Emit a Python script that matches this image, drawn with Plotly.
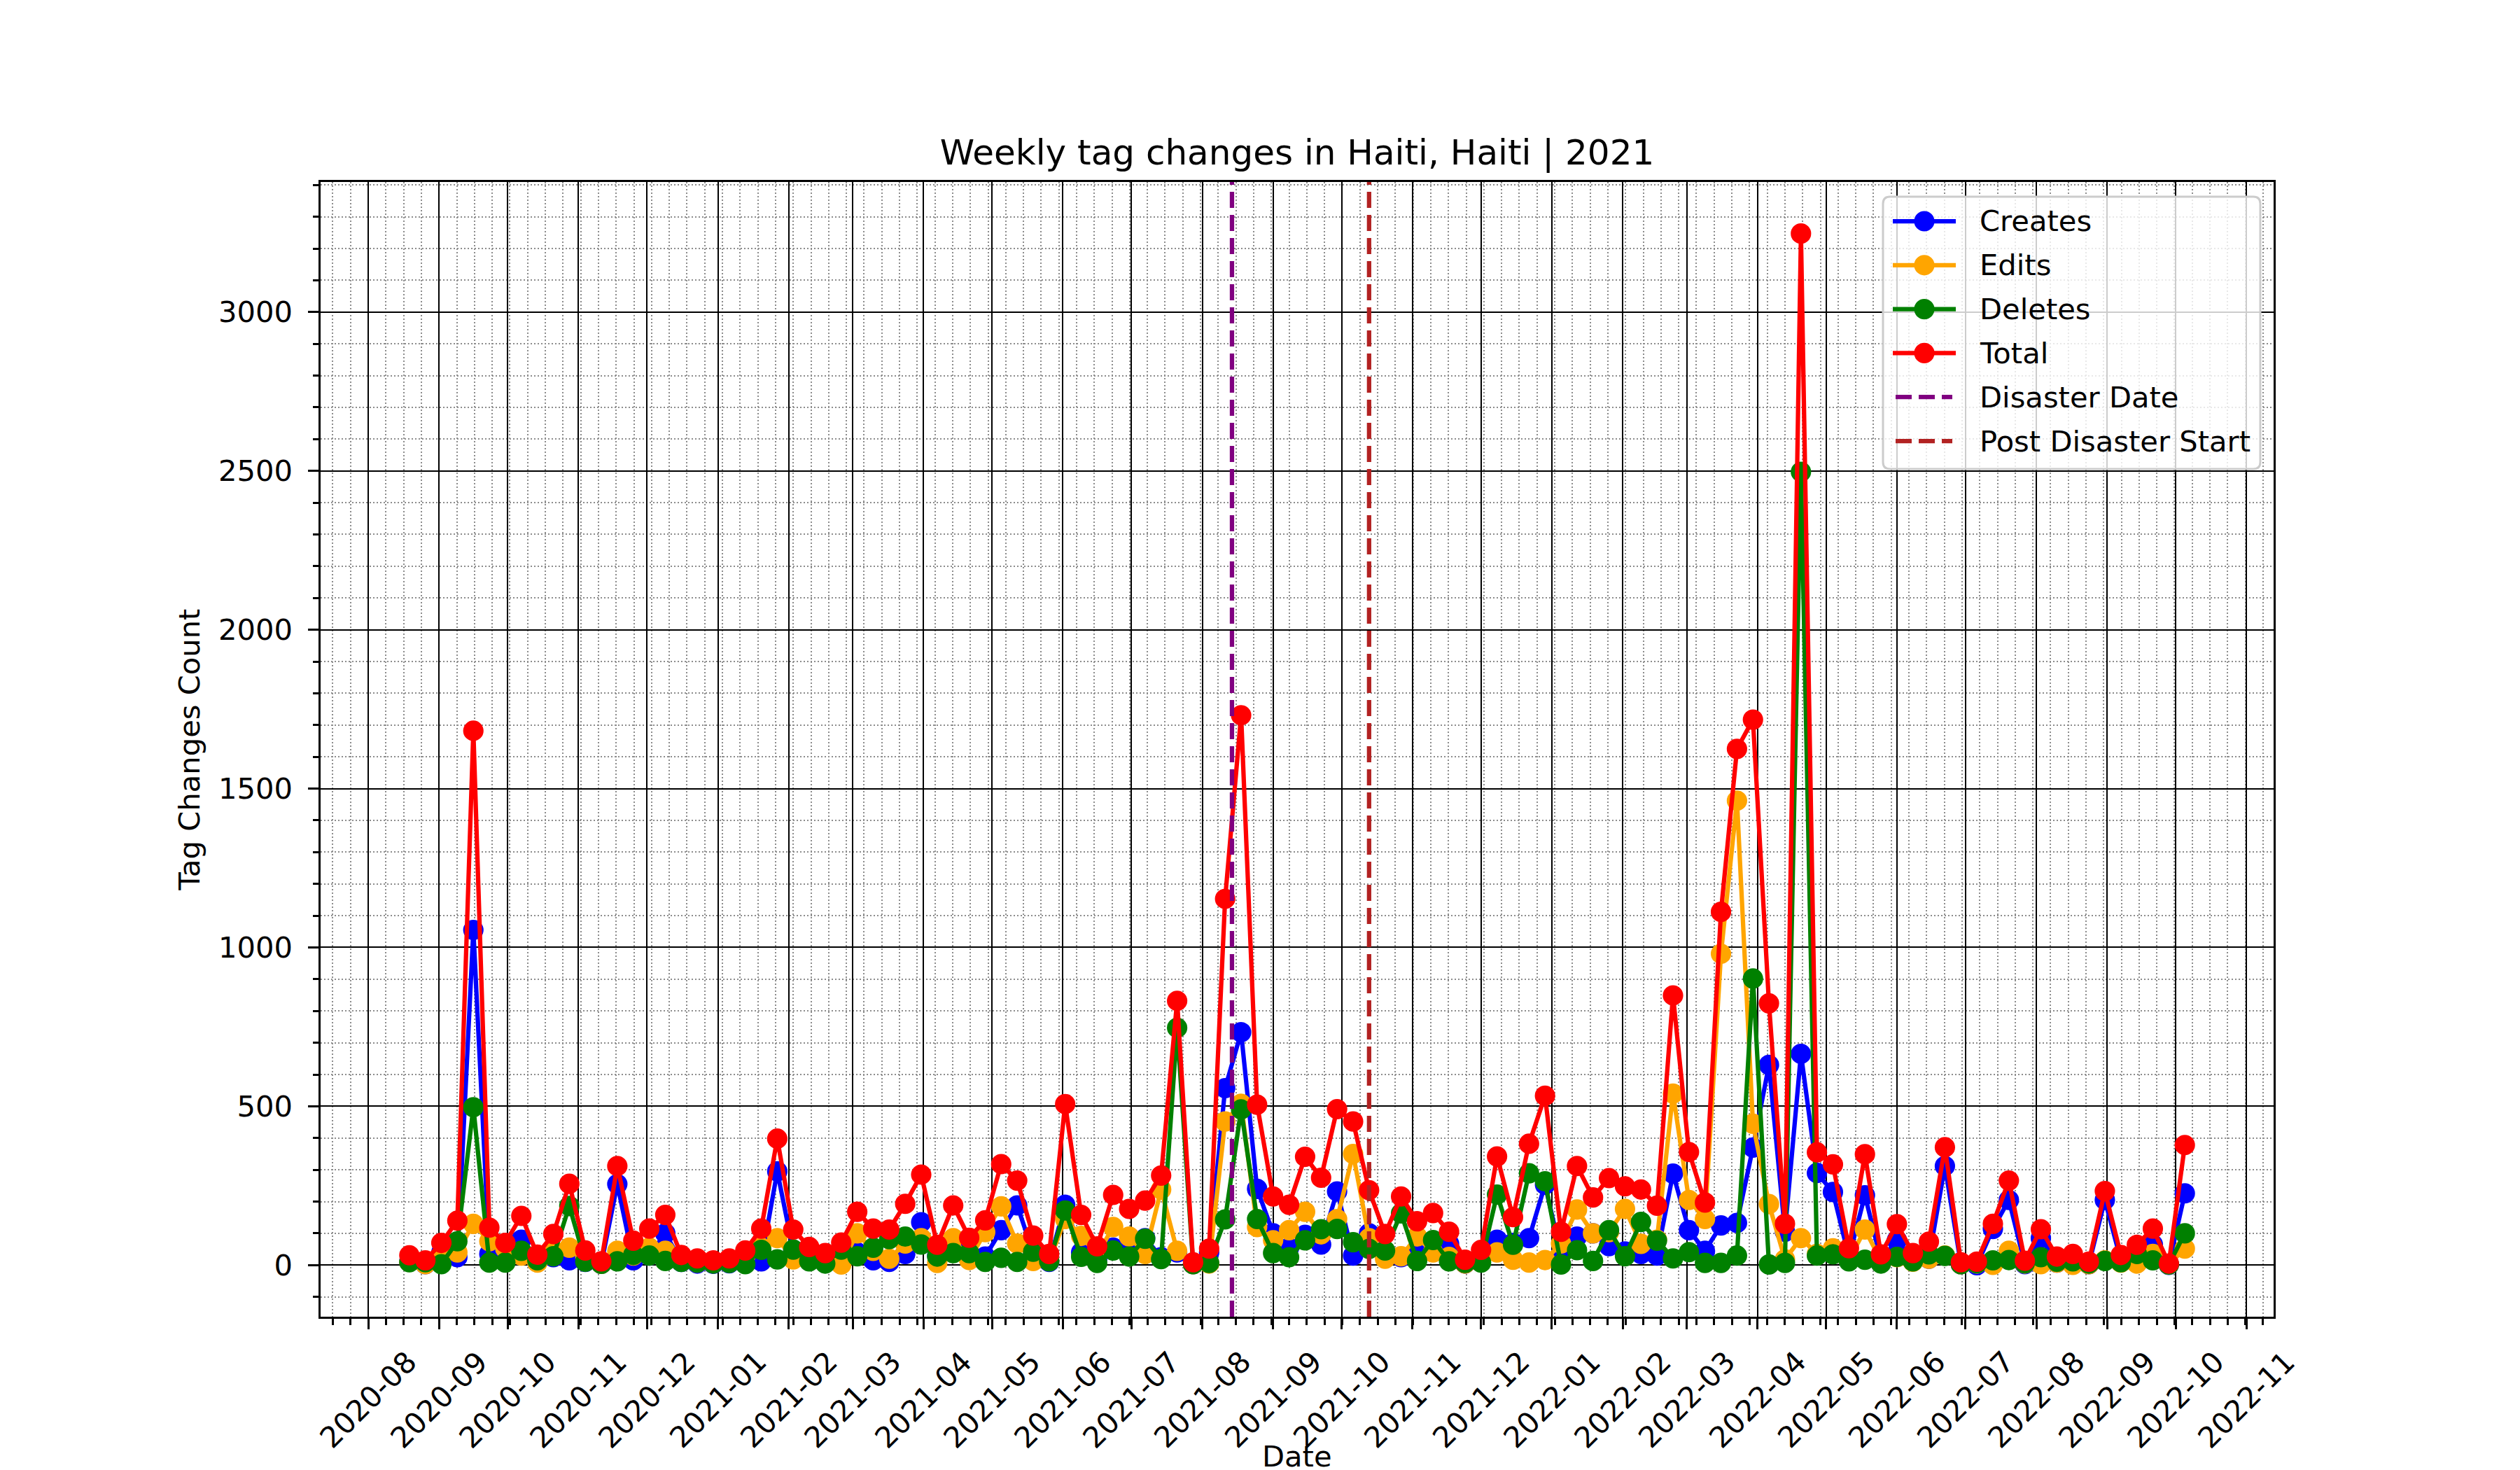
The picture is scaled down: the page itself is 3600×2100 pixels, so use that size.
import pandas as pd
import plotly.graph_objects as go

# weekly buckets (Wednesday anchored)
weeks = pd.date_range("2020-08-19", periods=112, freq="7D")

creates = [12, 3, 40, 25, 1055, 35, 10, 80, 10, 25, 15, 10, 4, 255, 15, 30, 100, 10, 5, 4,
           6, 15, 12, 295, 45, 30, 20, 20, 40, 15, 10, 35, 135, 30, 65, 32, 27, 110, 188, 38,
           10, 190, 40, 20, 55, 60, 85, 25, 40, 3, 40, 557, 733, 240, 100, 55, 95, 65, 232, 30,
           100, 32, 25, 35, 45, 67, 5, 20, 80, 70, 85, 253, 35, 90, 100, 60, 43, 35, 30, 288,
           110, 45, 125, 133, 370, 630, 105, 665, 290, 230, 25, 220, 15, 78, 15, 20, 312, 3, 0, 114,
           205, 3, 85, 8, 22, 3, 205, 15, 24, 65, 1, 226]
edits = [10, 3, 27, 40, 130, 75, 52, 30, 8, 45, 55, 25, 4, 45, 30, 55, 45, 12, 8, 6,
         8, 28, 55, 85, 18, 15, 13, 2, 100, 45, 20, 68, 85, 7, 85, 16, 104, 185, 68, 13,
         13, 145, 92, 32, 120, 90, 35, 238, 45, 3, 5, 452, 508, 120, 78, 110, 168, 97, 145, 350,
         85, 20, 28, 90, 40, 26, 5, 20, 40, 17, 8, 16, 68, 175, 100, 104, 177, 67, 80, 540,
         205, 145, 980, 1462, 445, 192, 18, 85, 35, 53, 16, 112, 14, 25, 11, 20, 30, 3, 5, 1,
         45, 5, 3, 8, 1, 3, 15, 8, 5, 35, 2, 52]
deletes = [9, 9, 3, 75, 497, 8, 8, 45, 15, 28, 186, 11, 4, 12, 32, 30, 13, 10, 8, 5,
           7, 3, 48, 18, 49, 12, 5, 49, 28, 55, 82, 90, 65, 27, 38, 38, 10, 23, 10, 42,
           12, 172, 26, 7, 46, 27, 83, 19, 747, 3, 7, 144, 490, 145, 38, 25, 78, 113, 114, 72,
           51, 46, 163, 13, 79, 12, 7, 8, 222, 64, 289, 264, 2, 47, 13, 110, 28, 136, 77, 21,
           41, 7, 7, 30, 902, 2, 7, 2497, 30, 34, 12, 17, 5, 26, 12, 34, 29, 3, 6, 15,
           16, 6, 25, 11, 12, 5, 13, 9, 35, 15, 2, 100]
total = [31, 15, 70, 140, 1682, 118, 70, 155, 33, 98, 256, 46, 12, 312, 77, 115, 158, 32, 21, 15,
         21, 46, 115, 398, 112, 57, 38, 71, 168, 115, 112, 193, 285, 64, 188, 86, 141, 318, 266, 93,
         35, 507, 158, 59, 221, 177, 203, 282, 832, 9, 52, 1153, 1731, 505, 216, 190, 341, 275, 491, 452,
         236, 98, 216, 138, 164, 105, 17, 48, 342, 151, 382, 533, 105, 312, 213, 274, 248, 238, 187, 849,
         356, 197, 1112, 1625, 1717, 824, 130, 3247, 355, 317, 53, 349, 34, 129, 38, 74, 371, 9, 11, 130,
         266, 14, 113, 27, 35, 11, 233, 32, 64, 115, 5, 378]

disaster_date = pd.Timestamp("2021-08-14")
post_start = pd.Timestamp("2021-10-13")

month_ticks = pd.date_range("2020-08-01", "2022-11-01", freq="MS")
month_labels = [d.strftime("%Y-%m") for d in month_ticks]

FONT = "DejaVu Sans"
PT = 300 / 72  # 12x7 in figure at 300 dpi
W, H = 3600, 2100
L, R, T, B = 450, 360, 252, 227
PW, PH = W - L - R, H - T - B


def px_x(px):
    return (px - L) / PW


def px_y(py):
    return (H - B - py) / PH


# matplotlib style 5% margins
span = weeks[-1] - weeks[0]
x_range = [weeks[0] - 0.05 * span, weeks[-1] + 0.05 * span]
ymax = max(total)
y_range = [-0.05 * ymax, ymax * 1.05]

fig = go.Figure()

series = [("Creates", creates, "blue"), ("Edits", edits, "orange"),
          ("Deletes", deletes, "green"), ("Total", total, "red")]
for name, vals, col in series:
    fig.add_trace(go.Scatter(
        x=weeks, y=vals, name=name, mode="lines+markers", showlegend=False,
        line=dict(color=col, width=1.5 * PT),
        marker=dict(color=col, size=6 * PT, line=dict(color=col, width=1 * PT)),
    ))

vlines = [("Disaster Date", disaster_date, "purple"),
          ("Post Disaster Start", post_start, "#b22222")]
DASH = "23px,10px"
for name, when, col in vlines:
    fig.add_trace(go.Scatter(
        x=[when, when], y=y_range, name=name, mode="lines", showlegend=False,
        line=dict(color=col, width=1.5 * PT, dash=DASH),
    ))

# rotated month labels, centred under each tick like matplotlib
for d, lab in zip(month_ticks, month_labels):
    fig.add_annotation(
        x=d, y=-0.0228, xref="x", yref="paper", text=lab, showarrow=False,
        textangle=-45, xanchor="center", yanchor="top",
        font=dict(family=FONT, size=10 * PT, color="black"),
    )

fig.add_annotation(
    x=0.5, y=px_y(2099), xref="paper", yref="paper", text="Date", showarrow=False,
    xanchor="center", yanchor="bottom",
    font=dict(family=FONT, size=10 * PT, color="black"),
)

# matplotlib-like legend box (upper right)
bx0, bx1, by0, by1, rad = 2682, 3221, 273, 662, 10
path = (f"M {px_x(bx0 + rad)},{px_y(by0)} L {px_x(bx1 - rad)},{px_y(by0)} "
        f"Q {px_x(bx1)},{px_y(by0)} {px_x(bx1)},{px_y(by0 + rad)} "
        f"L {px_x(bx1)},{px_y(by1 - rad)} Q {px_x(bx1)},{px_y(by1)} {px_x(bx1 - rad)},{px_y(by1)} "
        f"L {px_x(bx0 + rad)},{px_y(by1)} Q {px_x(bx0)},{px_y(by1)} {px_x(bx0)},{px_y(by1 - rad)} "
        f"L {px_x(bx0)},{px_y(by0 + rad)} Q {px_x(bx0)},{px_y(by0)} {px_x(bx0 + rad)},{px_y(by0)} Z")
fig.add_shape(type="path", path=path, xref="paper", yref="paper", layer="above",
              fillcolor="rgba(255,255,255,0.8)", line=dict(color="#cccccc", width=3))

entries = [(n, c, "solid", True) for n, _, c in series] + \
          [(n, c, DASH, False) for n, _, c in vlines]
row0, row_step = 308, 62.8
for k, (name, col, dash, has_marker) in enumerate(entries):
    yc = row0 + k * row_step
    x0, x1 = (2696, 2786) if has_marker else (2700, 2781)
    fig.add_shape(type="line", xref="paper", yref="paper", layer="above",
                  x0=px_x(x0), x1=px_x(x1), y0=px_y(yc), y1=px_y(yc),
                  line=dict(color=col, width=1.5 * PT, dash=dash))
    if has_marker:
        r = 3.5 * PT
        fig.add_shape(type="circle", xref="paper", yref="paper", layer="above",
                      x0=px_x(2741 - r), x1=px_x(2741 + r),
                      y0=px_y(yc + r), y1=px_y(yc - r),
                      fillcolor=col, line=dict(width=0))
    fig.add_annotation(x=px_x(2818), y=px_y(yc), xref="paper", yref="paper",
                       text=name, showarrow=False, xanchor="left", yanchor="middle",
                       font=dict(family=FONT, size=10 * PT, color="black"))

fig.update_layout(
    width=W, height=H,
    margin=dict(l=L, r=R, t=T, b=B),
    paper_bgcolor="white", plot_bgcolor="white",
    font=dict(family=FONT, size=10 * PT, color="black"),
    title=dict(text="Weekly tag changes in Haiti, Haiti | 2021",
               x=0.5, xref="paper", xanchor="center",
               y=1, yref="paper", yanchor="bottom", pad=dict(b=25),
               font=dict(family=FONT, size=12 * PT, color="black")),
    showlegend=False,
)

minor_grid = dict(showgrid=True, gridcolor="#8c8c8c", gridwidth=1.8, griddash="2px,3px")

fig.update_xaxes(
    type="date", range=x_range,
    tick0="2020-08-01", dtick="M1",
    showticklabels=False,
    ticks="outside", ticklen=3.5 * PT, tickwidth=0.8 * PT, tickcolor="black",
    showgrid=True, gridcolor="black", gridwidth=2.2,
    showline=True, mirror=True, linecolor="black", linewidth=0.8 * PT,
    zeroline=False,
    minor=dict(tick0="2020-08-01", dtick=7.75 * 86400000, ticks="outside",
               ticklen=2 * PT, tickwidth=0.6 * PT, tickcolor="black", **minor_grid),
)

fig.update_yaxes(
    range=y_range, tick0=0, dtick=500,
    ticks="outside", ticklen=3.5 * PT, tickwidth=0.8 * PT, tickcolor="black",
    ticklabelstandoff=14,
    tickfont=dict(family=FONT, size=10 * PT, color="black"),
    showgrid=True, gridcolor="black", gridwidth=2.2,
    showline=True, mirror=True, linecolor="black", linewidth=0.8 * PT,
    zeroline=False,
    title=dict(text="Tag Changes Count", standoff=14,
               font=dict(family=FONT, size=10 * PT, color="black")),
    minor=dict(tick0=0, dtick=100, ticks="outside",
               ticklen=2 * PT, tickwidth=0.6 * PT, tickcolor="black", **minor_grid),
)

fig.write_html("out.html")
